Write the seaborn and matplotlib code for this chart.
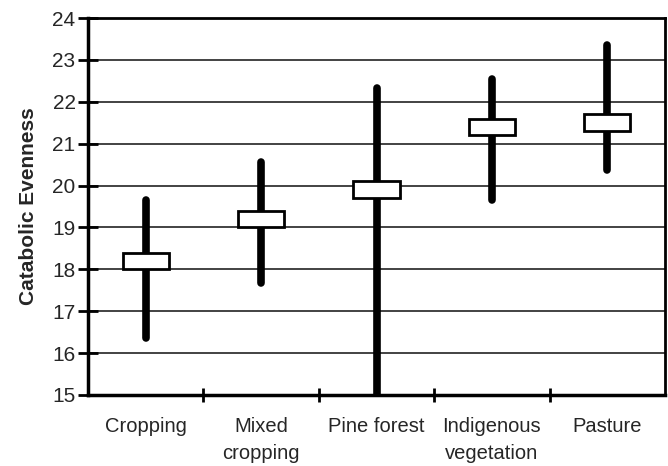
import matplotlib
matplotlib.use("Agg")
import matplotlib.pyplot as plt
import seaborn as sns
import numpy as np
import pandas as pd

categories = ["Cropping", "Mixed\ncropping", "Pine forest", "Indigenous\nvegetation", "Pasture"]
line_low = [16.36, 17.67, 14.8, 19.66, 20.36]
line_high = [19.66, 20.56, 22.34, 22.54, 23.36]
box_low = [18.0, 19.0, 19.7, 21.2, 21.3]
box_high = [18.4, 19.4, 20.1, 21.6, 21.7]
y_ticks = list(range(15, 25))

sns.set_style("white")
plt.rcParams['font.family'] = ['Liberation Sans', 'DejaVu Sans']

df = pd.DataFrame({"cat": categories, "lo": line_low, "hi": line_high,
                   "blo": box_low, "bhi": box_high})
df["h"] = df["bhi"] - df["blo"]

fig = plt.figure(figsize=(6.68, 4.66), dpi=100)
ax = fig.add_axes([88/668, 1-395/466, (665-88)/668, (395-18)/466])

x = np.arange(len(df))
ax.vlines(x, df["lo"], df["hi"], color="black", lw=5.5, capstyle="round", zorder=3)
ax.bar(x, df["h"], bottom=df["blo"], width=0.4, color="white", edgecolor="black",
       linewidth=2, zorder=4)

ax.set_xlim(-0.5, len(df) - 0.5)
ax.set_ylim(15, 24)
ax.set_yticks(y_ticks)
ax.set_yticklabels([str(v) for v in y_ticks], fontsize=15)
ax.yaxis.grid(True, color="#222222", lw=1.2)
ax.set_axisbelow(True)

ax.set_xticks(x)
ax.set_xticklabels(df["cat"], fontsize=14.5, linespacing=1.5)
ax.tick_params(axis="x", which="major", length=0, pad=16, bottom=True)
ax.set_xticks(np.arange(0.5, len(df) - 0.5, 1), minor=True)
ax.tick_params(axis="x", which="minor", length=10, width=2, direction="inout",
               color="black", bottom=True)
ax.tick_params(axis="y", which="major", length=14, width=2, direction="inout",
               color="black", pad=2, left=True)

for side, w in [("left", 2.5), ("bottom", 2.5), ("top", 2), ("right", 2)]:
    ax.spines[side].set_visible(True)
    ax.spines[side].set_linewidth(w)
    ax.spines[side].set_color("black")

ax.set_ylabel("Catabolic Evenness", fontsize=15, fontweight="bold", labelpad=10)
fig.savefig("out.png", dpi=100)
